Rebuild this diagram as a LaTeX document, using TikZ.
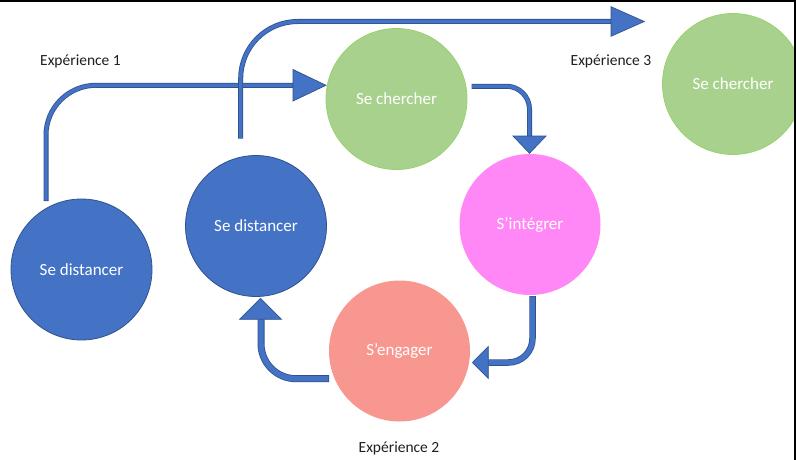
\documentclass[tikz,border=0pt]{standalone}
\usepackage{fontspec}
\setmainfont{Carlito}
\definecolor{bfill}{HTML}{4472C4}
\definecolor{bedge}{HTML}{2F528F}
\definecolor{gfill}{HTML}{A9D18E}
\definecolor{gedge}{HTML}{98D16C}
\definecolor{pfill}{HTML}{FF88F6}
\definecolor{sfill}{HTML}{F8978F}
\tikzset{
  bubble/.style={circle, minimum size=141pt, inner sep=0pt, text=white,
    font=\fontsize{17}{20}\selectfont},
  bluebubble/.style={bubble, fill=bfill, draw=bedge, line width=0.8pt},
  greenbubble/.style={bubble, fill=gfill, draw=gedge, line width=0.8pt},
  pinkbubble/.style={bubble, fill=pfill},
  salmonbubble/.style={bubble, fill=sfill},
  lbl/.style={font=\fontsize{15.5}{18}\selectfont, text=black!88},
  shaftout/.style={draw=bedge, line width=#1},
  shaftin/.style={draw=bfill, line width=#1, shorten <=0.7pt},
  headtri/.style={fill=bfill, draw=bedge, line width=0.7pt, line join=miter},
}
\begin{document}
\begin{tikzpicture}[x=1pt, y=-1pt]
  \useasboundingbox (0,0) rectangle (796,460);
  \clip (0,0) rectangle (796,460);
  \fill[white] (0,0) rectangle (796,460);

  % circles
  \node[bluebubble]   (d1) at (81.5,269.5) {Se distancer};
  \node[bluebubble]   (d2) at (256,226)    {Se distancer};
  \node[greenbubble]  (c1) at (396.5,99)   {Se chercher};
  \node[pinkbubble]   (i1) at (530,224.5)  {S’intégrer};
  \node[salmonbubble] (e1) at (399.5,351)  {S’engager};
  \node[greenbubble]  (c2) at (733,84)     {Se chercher};

  % labels
  \node[lbl] (x1) at (80.5,61) {Expérience 1};
  \node[lbl] (x3) at (611,61)  {Expérience 3};
  \node[lbl] (x2) at (399,448) {Expérience 2};

  % arrow A : d1 -> c1
  \coordinate (aS) at (46,201);
  \coordinate (aB) at (293,85.3);
  \draw[shaftout=5pt, rounded corners=50pt] (aS) |- (aB);
  \draw[shaftin=3.4pt, rounded corners=50pt] (aS) |- (aB);
  \filldraw[headtri] (293,69.5) -- (326,85.3) -- (293,101) -- cycle;

  % arrow B : d2 -> beyond
  \coordinate (bS) at (240.7,138.5);
  \coordinate (bB) at (611,21.5);
  \draw[shaftout=5pt, rounded corners=57pt] (bS) |- (bB);
  \draw[shaftin=3.4pt, rounded corners=57pt] (bS) |- (bB);
  \filldraw[headtri] (611,6.7) -- (644.3,21.5) -- (611,36.3) -- cycle;

  % arrow C : c1 -> i1
  \coordinate (cS) at (471.5,86.3);
  \coordinate (cB) at (529.5,136);
  \draw[shaftout=5pt, rounded corners=23pt] (cS) -| (cB);
  \draw[shaftin=3.4pt, rounded corners=23pt] (cS) -| (cB);
  \filldraw[headtri] (513,136) -- (529.5,153.3) -- (546,136) -- cycle;

  % arrow D : i1 -> e1
  \coordinate (dS) at (532.5,296);
  \coordinate (dB) at (488.3,362.5);
  \draw[shaftout=6.5pt, rounded corners=24pt] (dS) |- (dB);
  \draw[shaftin=4.9pt, rounded corners=24pt] (dS) |- (dB);
  \filldraw[headtri] (488.3,346.5) -- (472.5,362.5) -- (488.3,378.5) -- cycle;

  % arrow E : e1 -> d2
  \coordinate (eS) at (329,378.7);
  \coordinate (eB) at (261,319.3);
  \draw[shaftout=7pt, rounded corners=35pt] (eS) -| (eB);
  \draw[shaftin=5.4pt, rounded corners=35pt] (eS) -| (eB);
  \filldraw[headtri] (239.5,319.3) -- (260.5,298.3) -- (281.5,319.3) -- cycle;

  % frame edges
  \fill[black] (0,0) rectangle (796,2.5);
  \fill[black] (794,0) rectangle (796,460);
\end{tikzpicture}
\end{document}
